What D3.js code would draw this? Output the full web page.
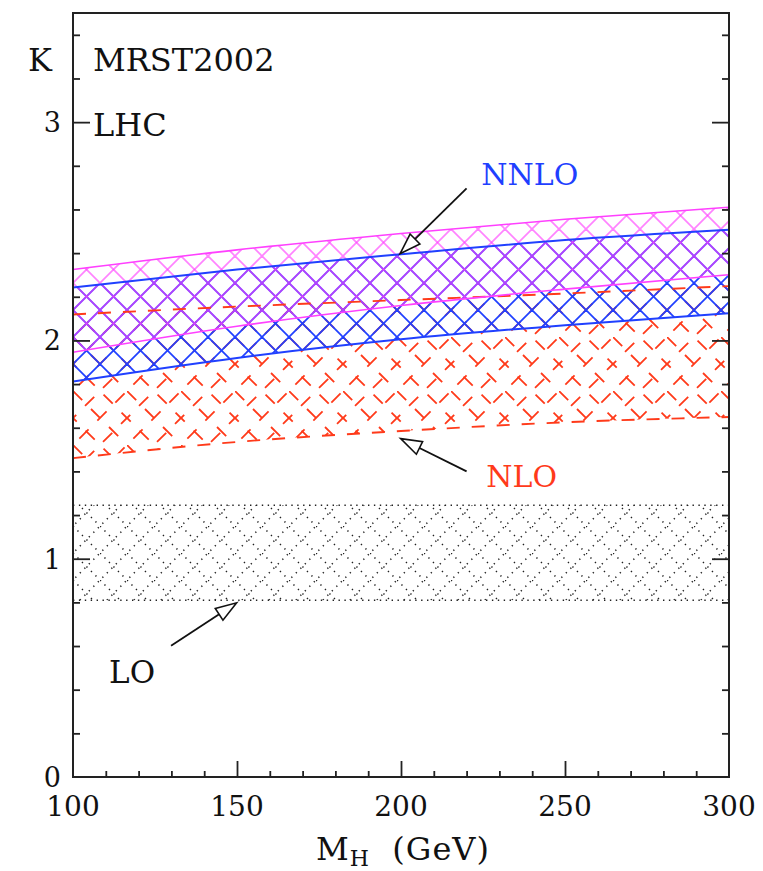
<!DOCTYPE html>
<html>
<head>
<meta charset="utf-8">
<script src="https://cdnjs.cloudflare.com/ajax/libs/d3/7.8.5/d3.min.js"></script>
<style>
body { margin: 0; background: #fff; }
text { font-family: "DejaVu Serif", serif; fill: #111; }
</style>
</head>
<body>
<div id="chart"></div>
<script>
// Higgs mass points (GeV) at which the K-factor bands are read
var massGeV = [100, 150, 200, 250, 300];

// NNLO band (blue, solid edges)
var nnloBlueHi = [2.243, 2.325, 2.395, 2.460, 2.507];
var nnloBlueLo = [1.812, 1.920, 2.005, 2.070, 2.125];
// NNLO band (magenta)
var nnloMagHi = [2.325, 2.415, 2.490, 2.555, 2.610];
var nnloMagLo = [1.946, 2.065, 2.160, 2.235, 2.301];
// NLO band (red, dashed edges)
var nloHi = [2.119, 2.155, 2.185, 2.215, 2.249];
var nloLo = [1.461, 1.535, 1.585, 1.625, 1.649];
// LO band (dotted)
var loHi = [1.245, 1.245, 1.245, 1.245, 1.245];
var loLo = [0.810, 0.810, 0.810, 0.810, 0.810];

var xTickLabels = [100, 150, 200, 250, 300];
var yTickLabels = [0, 1, 2, 3];

var margin = {top: 13, right: 34, bottom: 94, left: 73},
    width = 763 - margin.left - margin.right,
    height = 871 - margin.top - margin.bottom;

var svg = d3.select("#chart")
  .append("svg")
  .attr("width", width + margin.left + margin.right)
  .attr("height", height + margin.top + margin.bottom);

var defs = svg.append("defs");

var g = svg.append("g")
  .attr("transform", "translate(" + margin.left + "," + margin.top + ")");

var x = d3.scaleLinear().domain([100, 300]).range([0, width]);
var y = d3.scaleLinear().domain([0, 3.5]).range([height, 0]);

// cross hatch patterns, all on the same lattice
var cell = 27;
function hatch(id, color, sw, dash, offset, opacity) {
  var p = defs.append("pattern")
    .attr("id", id)
    .attr("patternUnits", "userSpaceOnUse")
    .attr("width", cell).attr("height", cell);
  p.append("line")
    .attr("x1", 0).attr("y1", 0).attr("x2", cell).attr("y2", cell)
    .attr("stroke", color).attr("stroke-width", sw)
    .attr("stroke-dasharray", dash).attr("stroke-opacity", opacity);
  p.append("line")
    .attr("x1", 0).attr("y1", cell).attr("x2", cell).attr("y2", 0)
    .attr("stroke", color).attr("stroke-width", sw)
    .attr("stroke-dasharray", dash).attr("stroke-dashoffset", offset)
    .attr("stroke-opacity", opacity);
}
hatch("hLO", "#222", 1.5, "1.3,5.06", 3, 1);
hatch("hBlue", "#2040ff", 1.8, null, 0, 1);
hatch("hMag", "#ff40ff", 1.8, null, 0, 0.65);

// dashed hatch on a double tile so the dash period need not fit one cell
(function() {
  var T = 2 * cell, half = cell * Math.SQRT2, dash = "13,12.46";
  var p = defs.append("pattern").attr("id", "hNLO")
    .attr("patternUnits", "userSpaceOnUse").attr("width", T).attr("height", T);
  var segs = [
    [0, 0, T, T, 0], [cell, 0, T, cell, 5], [0, cell, cell, T, 5 + half],
    [0, T, T, 0, 9], [0, cell, cell, 0, 17], [cell, T, T, cell, 17 + half]
  ];
  segs.forEach(function(s) {
    p.append("line").attr("x1", s[0]).attr("y1", s[1]).attr("x2", s[2]).attr("y2", s[3])
      .attr("stroke", "#ff3a1a").attr("stroke-width", 1.8)
      .attr("stroke-dasharray", dash).attr("stroke-dashoffset", -s[4]);
  });
})();

function rows(hi, lo) {
  return massGeV.map(function(m, i) { return {m: m, hi: hi[i], lo: lo[i]}; });
}

var area = d3.area()
  .x(function(d) { return x(d.m); })
  .y0(function(d) { return y(d.lo); })
  .y1(function(d) { return y(d.hi); })
  .curve(d3.curveMonotoneX);
var edgeHi = d3.line().x(function(d) { return x(d.m); }).y(function(d) { return y(d.hi); }).curve(d3.curveMonotoneX);
var edgeLo = d3.line().x(function(d) { return x(d.m); }).y(function(d) { return y(d.lo); }).curve(d3.curveMonotoneX);

var bands = [
  {rows: rows(loHi, loLo), fill: "url(#hLO)", stroke: "#222", sw: 1.5, dash: "1.4,4.5"},
  {rows: rows(nloHi, nloLo), fill: "url(#hNLO)", stroke: "#ff3a1a", sw: 1.9, dash: "13,12"},
  {rows: rows(nnloBlueHi, nnloBlueLo), fill: "url(#hBlue)", stroke: "#2040ff", sw: 2, dash: null},
  {rows: rows(nnloMagHi, nnloMagLo), fill: "url(#hMag)", stroke: "#ff40ff", sw: 1.6, dash: null}
];

bands.forEach(function(b) {
  g.append("path").datum(b.rows).attr("d", area).attr("fill", b.fill);
});
bands.forEach(function(b) {
  [edgeHi, edgeLo].forEach(function(ln) {
    g.append("path").datum(b.rows).attr("d", ln)
      .attr("fill", "none").attr("stroke", b.stroke)
      .attr("stroke-width", b.sw).attr("stroke-dasharray", b.dash);
  });
});

// frame
g.append("rect").attr("width", width).attr("height", height)
  .attr("fill", "none").attr("stroke", "#222").attr("stroke-width", 2);

// ticks (inward)
function ticks(axis, vals, size, tr) {
  var a = g.append("g").attr("transform", tr)
    .call(axis.tickValues(vals).tickSize(size).tickFormat(""));
  a.select(".domain").remove();
  a.selectAll("line").attr("stroke", "#222").attr("stroke-width", 1.8);
  return a;
}
var minorX = d3.range(110, 300, 10).filter(function(v) { return v % 50 !== 0; });
var majorX = [150, 200, 250];
var minorY = d3.range(0.2, 3.5, 0.2).filter(function(v) { return Math.abs(v - Math.round(v)) > 0.01; });
var majorY = [1, 2, 3];

ticks(d3.axisBottom(x), minorX, -6, "translate(0," + height + ")");
ticks(d3.axisBottom(x), majorX, -16, "translate(0," + height + ")");
ticks(d3.axisLeft(y), minorY, -7, null);
ticks(d3.axisLeft(y), majorY, -17, null);
ticks(d3.axisRight(y), minorY, -7, "translate(" + width + ",0)");
ticks(d3.axisRight(y), majorY, -17, "translate(" + width + ",0)");

// tick labels
g.selectAll(".xl").data(xTickLabels).enter().append("text")
  .attr("x", function(d) { return x(d); })
  .attr("y", height + 39)
  .attr("text-anchor", "middle")
  .style("font-size", "28px")
  .text(function(d) { return d; });
g.selectAll(".yl").data(yTickLabels).enter().append("text")
  .attr("x", -12)
  .attr("y", function(d) { return y(d) + 10; })
  .attr("text-anchor", "end")
  .style("font-size", "27px")
  .text(function(d) { return d; });

// axis titles and labels
g.append("text").attr("x", -45).attr("y", 58).style("font-size", "32px").text("K");
g.append("text").attr("x", 20).attr("y", 58).style("font-size", "32px").text("MRST2002");
g.append("text").attr("x", 20).attr("y", 123).style("font-size", "32px").text("LHC");

var xt = g.append("text").attr("x", width / 2 + 2).attr("y", height + 83)
  .attr("text-anchor", "middle").style("font-size", "32px")
  .style("letter-spacing", "1px");
xt.append("tspan").text("M");
xt.append("tspan").attr("dy", 6).style("font-size", "22px").text("H");
xt.append("tspan").attr("dy", -6).text("\u00a0\u00a0(GeV)");

g.append("text").attr("x", x(224.5)).attr("y", y(2.71)).style("font-size", "30px")
  .style("fill", "#1f3fff").text("NNLO");
g.append("text").attr("x", x(226)).attr("y", y(1.33)).style("font-size", "30px")
  .style("fill", "#ff3a1a").text("NLO");
g.append("text").attr("x", x(111)).attr("y", y(0.43)).style("font-size", "31px")
  .text("LO");

// arrows: tail -> tip in data units
function arrow(m1, k1, m2, k2) {
  var x1 = x(m1), y1 = y(k1), x2 = x(m2), y2 = y(k2);
  var dx = x2 - x1, dy = y2 - y1, L = Math.hypot(dx, dy);
  var ux = dx / L, uy = dy / L, h = 21, w = 7;
  var bx = x2 - ux * h, by = y2 - uy * h;
  g.append("line").attr("x1", x1).attr("y1", y1).attr("x2", bx).attr("y2", by)
    .attr("stroke", "#111").attr("stroke-width", 1.8);
  g.append("path")
    .attr("d", "M" + x2 + "," + y2 + "L" + (bx - uy * w) + "," + (by + ux * w) +
               "L" + (bx + uy * w) + "," + (by - ux * w) + "Z")
    .attr("fill", "#fff").attr("stroke", "#111").attr("stroke-width", 1.6);
}
arrow(220.0, 2.697, 199.7, 2.397);
arrow(220.0, 1.400, 199.9, 1.550);
arrow(129.9, 0.601, 149.9, 0.798);
</script>
</body>
</html>
